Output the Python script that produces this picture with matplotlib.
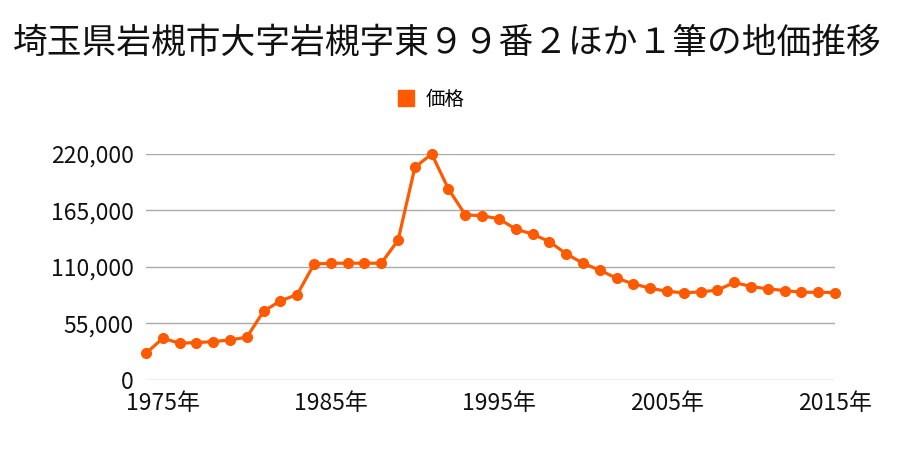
import matplotlib.pyplot as plt
from matplotlib.lines import Line2D
from matplotlib.ticker import FuncFormatter

plt.rcParams['font.family'] = ['Noto Sans CJK JP', 'DejaVu Sans']

title = '埼玉県岩槻市大字岩槻字東９９番２ほか１筆の地価推移'
series_name = '価格'

years = list(range(1974, 2016))
prices = [26000, 40600, 35800, 36400, 37300, 39000, 41600, 67000, 77000, 83200,
          112800, 113700, 113700, 113700, 113700, 136000, 207000, 220000, 185900, 160800,
          159900, 156900, 146900, 142000, 134800, 122800, 113700, 106900, 99100, 93600,
          89300, 86400, 84800, 85800, 87400, 94900, 91000, 88700, 87100, 85400,
          85400, 85100]

y_ticks = [0, 55000, 110000, 165000, 220000]
x_ticks = [1975, 1985, 1995, 2005, 2015]

color = '#ff5a00'

fig = plt.figure(figsize=(9, 4.5), dpi=100)
ax = fig.add_axes([0.1622, 0.1556, 0.7656, 0.5022])

ax.plot(years, prices, color=color, linewidth=2.3, marker='o', markersize=7,
        clip_on=False, zorder=3)

ax.set_xlim(years[0], years[-1])
ax.set_ylim(0, 220000)
ax.set_yticks(y_ticks)
ax.yaxis.set_major_formatter(FuncFormatter(lambda v, p: f'{int(v):,}'))
ax.set_xticks(x_ticks)
ax.set_xticklabels([f'{y}年' for y in x_ticks])
ax.grid(axis='y', color='#aaaaaa', linewidth=1)
ax.set_axisbelow(True)
for s in ax.spines.values():
    s.set_visible(False)
ax.tick_params(axis='both', length=0, labelsize=16.5, colors='#111111')
ax.tick_params(axis='y', pad=9)
ax.tick_params(axis='x', pad=9)

fig.text(0.497, 1 - 43 / 450, title, ha='center', va='center', fontsize=25, color='#111111')

handle = Line2D([], [], color=color, marker='s', linestyle='none', markersize=11)
fig.legend([handle], [series_name], loc='center', bbox_to_anchor=(0.478, 1 - 99 / 450),
           frameon=False, fontsize=14, handletextpad=0.5, handlelength=1.0)

fig.savefig('out.png', dpi=100)
